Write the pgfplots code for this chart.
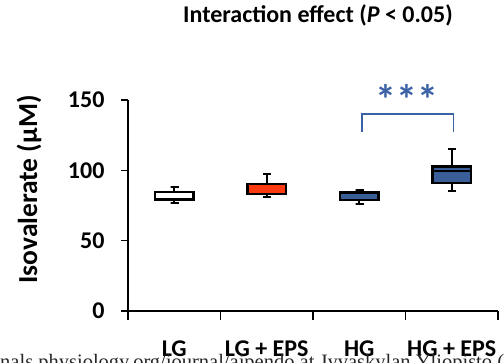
\documentclass[border=0pt]{standalone}
\usepackage{pgfplots}
\pgfplotsset{compat=1.18}
\usepackage{fontspec}
\setmainfont{Carlito}
\newfontfamily\wmfont{Liberation Serif}
\definecolor{boxred}{HTML}{FF3A10}
\definecolor{boxblue}{HTML}{3A5F98}
\definecolor{sigblue}{HTML}{3C62A6}

\begin{document}
\begin{tikzpicture}
\path[use as bounding box] (0,0) rectangle (504pt,363pt);
\clip (0,0) rectangle (504pt,363pt);

\begin{axis}[
  at={(128pt,52pt)}, anchor=south west,
  scale only axis, width=370pt, height=211pt,
  xmin=-0.5, xmax=3.5, ymin=0, ymax=150,
  axis x line*=bottom, axis y line*=left,
  axis line style={line width=1.6pt},
  clip=false,
  tick align=outside,
  xtick={0,1,2,3},
  xticklabels={LG, LG + EPS, HG, HG + EPS},
  minor xtick={-0.5,0.5,1.5,2.5,3.5},
  major x tick style={draw=none},
  minor x tick style={line width=1.6pt, black},
  minor tick length=9pt,
  ytick={0,50,100,150},
  major y tick style={line width=1.6pt, black},
  major tick length=7pt,
  yticklabel style={font=\fontsize{24}{26}\selectfont\bfseries, xshift=-13pt},
  xticklabel style={font=\fontsize{24}{26}\selectfont\bfseries, yshift=-19pt},
  /pgf/number format/assume math mode=true,
  whisk/.style={line width=2pt, black, line cap=rect},
  boxs/.style={line width=2.4pt, draw=black, line join=miter},
]
% whiskers: (centre, box edge) up/down to whisker end, then the cap
\addplot[whisk] coordinates {(0,84.8) (0,88) (-0.04,88) (0.04,88)};
\addplot[whisk] coordinates {(0,79.4) (0,77) (-0.04,77) (0.04,77)};
\addplot[whisk] coordinates {(1,90.3) (1,97.4) (0.96,97.4) (1.04,97.4)};
\addplot[whisk] coordinates {(1,83) (1,81.3) (0.96,81.3) (1.04,81.3)};
\addplot[whisk] coordinates {(2,84.1) (2,86) (1.96,86) (2.04,86)};
\addplot[whisk] coordinates {(2,78.7) (2,76) (1.96,76) (2.04,76)};
\addplot[whisk] coordinates {(3,102.6) (3,115) (2.96,115) (3.04,115)};
\addplot[whisk] coordinates {(3,90.8) (3,85.5) (2.96,85.5) (3.04,85.5)};

% boxes: lower to upper quartile
\addplot[boxs, fill=white] coordinates
  {(-0.21,79.4) (0.21,79.4) (0.21,84.8) (-0.21,84.8)} -- cycle;
\addplot[boxs, fill=boxred] coordinates
  {(0.79,83) (1.21,83) (1.21,90.3) (0.79,90.3)} -- cycle;
\addplot[boxs, fill=boxblue] coordinates
  {(1.79,78.7) (2.21,78.7) (2.21,84.1) (1.79,84.1)} -- cycle;
\addplot[boxs, fill=boxblue] coordinates
  {(2.79,90.8) (3.21,90.8) (3.21,102.6) (2.79,102.6)} -- cycle;
% median of HG + EPS
\addplot[line width=2pt, black] coordinates {(2.79,99.5) (3.21,99.5)};

% significance bracket between HG and HG + EPS
\draw[sigblue, line width=1.8pt] (axis cs:2.03,127.5) -- (axis cs:2.03,140)
  -- (axis cs:3.02,140) -- (axis cs:3.02,127.5);
\node[sigblue, anchor=base, inner sep=0pt, font=\fontsize{42}{42}\selectfont\bfseries]
  at (axis cs:2.52,139.5) {***};
\end{axis}

% title and y label
\node[font=\fontsize{24}{26}\selectfont\bfseries] at (318pt,348pt)
  {Interaction effect (\textit{P} < 0.05)};
\node[rotate=90, font=\fontsize{27.5}{30}\selectfont\bfseries] at (29pt,173.5pt)
  {Isovalerate (µM)};

% download stamp along the lower edge
\node[anchor=base west, inner sep=0pt, text=black!85,
  font=\wmfont\fontsize{20.5}{21}\selectfont] at (0pt,-6pt)
  {\llap{jour}nals.physiology.org/journal/ajpendo at Jyvaskylan Yliopisto (130.234.243.139)};
\end{tikzpicture}
\end{document}
